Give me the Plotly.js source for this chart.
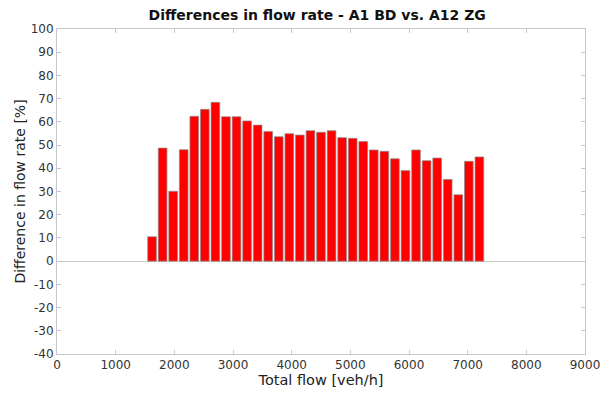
<!DOCTYPE html>
<html>
<head>
<meta charset="utf-8">
<script src="https://cdn.plot.ly/plotly-3.0.1.min.js"></script>
<style>html,body{margin:0;padding:0;background:#fff;}#chart{width:610px;height:394px;}</style>
</head>
<body>
<div id="chart"></div>
<script>
var flowBins = [1620,1800,1980,2160,2340,2520,2700,2880,3060,3240,3420,3600,3780,3960,4140,4320,4500,4680,4860,5040,5220,5400,5580,5760,5940,6120,6300,6480,6660,6840,7020,7200];
var diffPercent = [10.5,48.7,30.1,48.0,62.4,65.4,68.4,62.2,62.2,60.4,58.6,55.9,53.6,54.9,54.3,56.2,55.5,56.2,53.2,52.9,51.5,47.9,47.3,44.1,39.0,47.9,43.3,44.4,35.2,28.6,43.0,44.9];
var xTicks = [0,1000,2000,3000,4000,5000,6000,7000,8000,9000];
var yTicks = [-40,-30,-20,-10,0,10,20,30,40,50,60,70,80,90,100];

var fontFam = '"DejaVu Sans", sans-serif';
var trace = {
  type: 'bar',
  x: flowBins,
  y: diffPercent,
  width: 148,
  marker: {color: '#ff0000', line: {color: 'rgba(140,140,140,0.7)', width: 1}},
  hoverinfo: 'x+y'
};
var layout = {
  width: 610, height: 394,
  margin: {l: 57, r: 25, t: 29, b: 40, pad: 0},
  paper_bgcolor: '#ffffff', plot_bgcolor: '#ffffff',
  showlegend: false,
  font: {family: fontFam, size: 12, color: '#333333'},
  title: {text: '<b>Differences in flow rate - A1 BD vs. A12 ZG</b>', x: 0.52, xanchor: 'center', y: 0.975, yanchor: 'top', font: {family: fontFam, size: 14, color: '#111111'}},
  xaxis: {
    range: [0, 9000], tickvals: xTicks, ticktext: xTicks.map(String),
    showgrid: false, zeroline: false, showline: true, linecolor: '#c8c8c8', linewidth: 1, mirror: 'ticks',
    ticks: 'inside', ticklen: 4, tickcolor: '#c8c8c8',
    tickfont: {family: fontFam, size: 12, color: '#333333'},
    title: {text: 'Total flow [veh/h]', standoff: 1, font: {family: fontFam, size: 14.5, color: '#222222'}}
  },
  yaxis: {
    range: [-40, 100], tickvals: yTicks, ticktext: yTicks.map(String),
    showgrid: false, zeroline: true, zerolinecolor: '#c8c8c8', zerolinewidth: 1,
    showline: true, linecolor: '#c8c8c8', linewidth: 1, mirror: 'ticks',
    ticks: 'inside', ticklen: 4, tickcolor: '#c8c8c8',
    tickfont: {family: fontFam, size: 12, color: '#333333'},
    title: {text: 'Difference in flow rate [%]', standoff: 1, font: {family: fontFam, size: 14, color: '#222222'}}
  },
  bargap: 0.18
};
Plotly.newPlot('chart', [trace], layout, {displayModeBar: false, staticPlot: true});
</script>
</body>
</html>
